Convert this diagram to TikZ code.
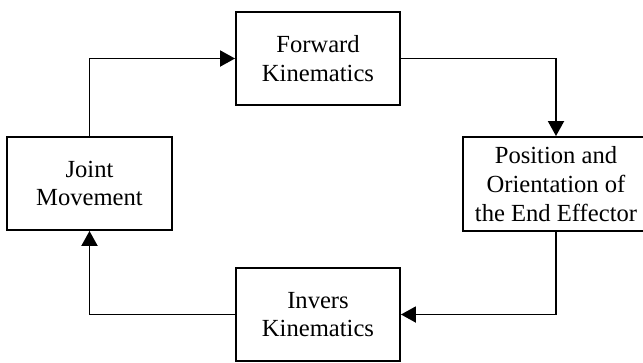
\documentclass[tikz,border=0pt]{standalone}
\usepackage{fontspec}
\setmainfont{Liberation Serif}
\usetikzlibrary{arrows.meta}
\begin{document}
\begin{tikzpicture}[x=1pt,y=-1pt,
  box/.style={draw=black, line width=1.9pt, rectangle, inner sep=0pt, align=center,
    font=\fontsize{24.6}{28.8}\selectfont},
  conn/.style={line width=1.9pt, -{Triangle[length=15pt,width=16pt]}}]
\useasboundingbox (0,0) rectangle (643,362);
\node[box, minimum width=164pt, minimum height=93pt] (fwd) at (318,58.5) {Forward\\Kinematics};
\node[box, minimum width=165pt, minimum height=93pt] (joint) at (89.5,183.5) {Joint\\Movement};
\node[box, minimum width=186pt, minimum height=94pt] (pos) at (556,184) {Position and\\Orientation of\\the End Effector};
\node[box, minimum width=164pt, minimum height=93pt] (inv) at (318,314.5) {Invers\\Kinematics};
\draw[conn] (joint.north) |- (fwd.west);
\draw[conn] (fwd.east) -| (pos.north);
\draw[conn] (pos.south) |- (inv.east);
\draw[conn] (inv.west) -| (joint.south);
\end{tikzpicture}
\end{document}
